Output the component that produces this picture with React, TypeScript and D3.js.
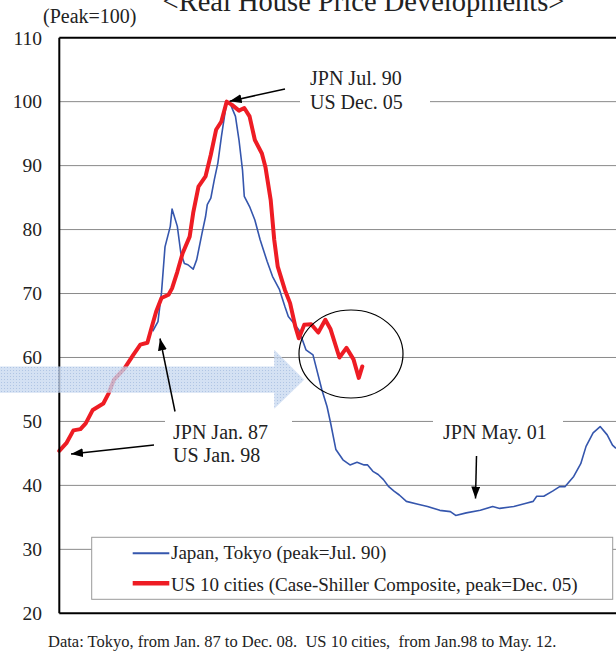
import React from "react";
import * as d3 from "d3";

// US 10 cities (Case-Shiller Composite), months since Jan. 98, peak = Dec. 05 (month 95)
const usMonths = [0, 4, 8, 12, 15, 19, 25, 28, 31, 37, 42, 46, 50, 52, 55, 58, 62, 64, 67, 70, 74, 76, 79, 83, 86, 89, 92, 95, 98, 102, 105, 108, 111, 115, 117, 120, 122, 124, 128, 131, 134, 136, 139, 143, 147, 151, 154, 159, 163, 167, 170, 172];
const usValues = [45.4, 46.6, 48.6, 48.8, 49.7, 51.8, 52.8, 54.4, 56.5, 58.3, 60.4, 62.0, 62.3, 64.3, 67.2, 69.3, 69.8, 70.8, 73.4, 76.3, 78.9, 82.6, 86.7, 88.3, 91.7, 95.6, 96.9, 100, 99.5, 98.6, 99.0, 97.7, 94.0, 91.9, 89.8, 84.6, 78.4, 74.2, 70.6, 68.5, 64.8, 63.0, 65.1, 65.2, 63.9, 65.9, 64.4, 60.0, 61.5, 59.7, 56.8, 58.6];
const usPeakMonth = 95;

// Japan, Tokyo, months since Jan. 87, peak = Jul. 90 (month 42)
const jpMonths = [0, 3, 5, 7, 10, 11, 14, 16, 18, 20, 23, 25, 28, 30, 31, 33, 35, 37, 39, 42, 44, 47, 49, 51, 52, 55, 58, 61, 65, 68, 72, 75, 77, 80, 83, 87, 91, 96, 99, 101, 104, 108, 112, 116, 120, 122, 125, 128, 131, 134, 137, 140, 144, 150, 156, 163, 169, 172, 178, 186, 193, 197, 205, 212, 216, 218, 222, 227, 231, 234, 239, 243, 246, 250, 254, 258, 261, 263];
const jpValues = [64.1, 65.6, 70.1, 77.3, 80.5, 83.2, 80.5, 76.3, 74.7, 74.5, 73.8, 75.3, 79.4, 82.0, 83.9, 84.9, 87.8, 90.4, 94.5, 100, 99.7, 97.7, 94.0, 89.3, 85.2, 83.6, 81.5, 78.4, 75.0, 72.7, 70.6, 68.0, 66.4, 65.4, 64.3, 61.2, 60.4, 55.0, 52.3, 49.75, 45.6, 44.0, 43.2, 43.6, 43.2, 43.2, 42.2, 41.7, 40.9, 39.8, 39.1, 38.5, 37.5, 37.1, 36.7, 36.1, 35.9, 35.3, 35.7, 36.1, 36.7, 36.4, 36.7, 37.2, 37.5, 38.3, 38.3, 39.1, 39.8, 39.8, 41.4, 43.4, 46.1, 48.2, 49.2, 47.9, 46.3, 45.8];
const jpPeakMonth = 42;

const yTicks = [20, 30, 40, 50, 60, 70, 80, 90, 100, 110];
const gridValues = [30, 40, 50, 60, 70, 80, 90, 100];

const title = "<Real House Price Developments>";
const unitLabel = "(Peak=100)";
const legendLabels = ["Japan, Tokyo (peak=Jul. 90)", "US 10 cities (Case-Shiller Composite, peak=Dec. 05)"];
const note = "Data: Tokyo, from Jan. 87 to Dec. 08.  US 10 cities,  from Jan.98 to May. 12.";

const W = 616;
const H = 657;
const FONT = "'Liberation Serif', 'Times New Roman', serif";
const BLUE = "#3556ad";
const RED = "#ee1c24";

export default function App() {
  // x: months relative to each series' own peak
  const x = d3.scaleLinear().domain([-95, 221]).range([59.3, 616]);
  const y = d3.scaleLinear().domain([20, 110]).range([613.3, 37.7]);

  const usData: [number, number][] = usMonths.map((m, i) => [m - usPeakMonth, usValues[i]]);
  const jpData: [number, number][] = jpMonths.map((m, i) => [m - jpPeakMonth, jpValues[i]]);
  const line = d3
    .line<[number, number]>()
    .x((d) => x(d[0]))
    .y((d) => y(d[1]));

  const x0 = x(-95);
  const x1 = 616;

  // big translucent arrow (in data space)
  const arrowPts: [number, number][] = [
    [-140, 58.6],
    [27, 58.6],
    [27, 61.2],
    [44, 56.5],
    [27, 52.0],
    [27, 54.5],
    [-140, 54.5],
  ];

  const textStyle = { fontFamily: FONT, fill: "#222" } as const;

  return (
    <svg
      width={W}
      height={H}
      style={{ position: "absolute", left: 0, top: 0, background: "#fff" }}
    >
      <defs>
        <marker id="ah" markerUnits="userSpaceOnUse" markerWidth={13} markerHeight={10} refX={12} refY={4.5} orient="auto">
          <path d="M0,0 L12,4.5 L0,9 z" fill="#000" />
        </marker>
        <pattern id="dots" width={3} height={3} patternUnits="userSpaceOnUse">
          <rect width={3} height={3} fill="#c8d8f0" />
          <rect x={1} y={1} width={1} height={1} fill="#9ab4dc" />
        </pattern>
      </defs>
      <rect width={W} height={H} fill="#fff" />

      {/* gridlines */}
      {gridValues.map((v) => (
        <line key={v} x1={x0} x2={x1} y1={y(v)} y2={y(v)} stroke="#8a8a8a" strokeWidth={1} />
      ))}

      {/* white label backgrounds hiding gridlines */}
      <rect x={300} y={62} width={130} height={56} fill="#fff" />
      <rect x={165} y={412} width={127} height={58} fill="#fff" />
      <rect x={433} y={412} width={130} height={36} fill="#fff" />

      {/* data lines */}
      <path d={line(jpData) || ""} fill="none" stroke={BLUE} strokeWidth={1.6} strokeLinejoin="round" />
      <path d={line(usData) || ""} fill="none" stroke={RED} strokeWidth={4} strokeLinejoin="round" strokeLinecap="round" />

      {/* frame */}
      <line x1={x0} x2={x1} y1={y(110)} y2={y(110)} stroke="#000" strokeWidth={2} />
      <line x1={x0} x2={x1} y1={y(20)} y2={y(20)} stroke="#000" strokeWidth={2} />
      <line x1={x0} x2={x0} y1={y(110)} y2={y(20)} stroke="#000" strokeWidth={2} />

      {/* y tick labels */}
      {yTicks.map((v) => (
        <text key={v} x={42} y={y(v)} dy="0.35em" textAnchor="end" fontSize={19.5} style={textStyle}>
          {v}
        </text>
      ))}

      {/* translucent arrow */}
      <polygon
        points={arrowPts.map((p) => `${x(p[0])},${y(p[1])}`).join(" ")}
        fill="url(#dots)"
        opacity={0.78}
      />

      {/* ellipse */}
      <ellipse cx={351} cy={354} rx={52} ry={44} fill="none" stroke="#000" strokeWidth={1.2} />

      {/* annotation arrows */}
      <line x1={285} y1={89} x2={x(0) + 3} y2={y(100) - 0.5} stroke="#000" strokeWidth={1.5} markerEnd="url(#ah)" />
      <line x1={175} y1={411.5} x2={160} y2={338.5} stroke="#000" strokeWidth={1.5} markerEnd="url(#ah)" />
      <line x1={154} y1={445} x2={71} y2={454} stroke="#000" strokeWidth={1.5} markerEnd="url(#ah)" />
      <line x1={476.5} y1={456} x2={475.5} y2={498.5} stroke="#000" strokeWidth={1.5} markerEnd="url(#ah)" />

      {/* annotation texts */}
      <text x={310} y={85} fontSize={20} style={textStyle}>JPN Jul. 90</text>
      <text x={310} y={108.5} fontSize={20} style={textStyle}>US Dec. 05</text>
      <text x={173} y={438.5} fontSize={20} style={textStyle}>JPN Jan. 87</text>
      <text x={173} y={462} fontSize={20} style={textStyle}>US Jan. 98</text>
      <text x={443} y={438.5} fontSize={20} style={textStyle}>JPN May. 01</text>

      {/* title + unit */}
      <text x={363.5} y={11} textAnchor="middle" fontSize={28.5} style={textStyle}>{title}</text>
      <text x={43} y={23} fontSize={20} style={textStyle}>{unitLabel}</text>

      {/* legend */}
      <rect x={91.7} y={537.3} width={521} height={62} fill="#fff" stroke="#9a9a9a" strokeWidth={1} />
      <line x1={132.7} x2={169.3} y1={553.3} y2={553.3} stroke={BLUE} strokeWidth={2} />
      <line x1={132.7} x2={169.3} y1={583.3} y2={583.3} stroke={RED} strokeWidth={4.5} />
      <text x={171} y={559} fontSize={19} style={textStyle}>{legendLabels[0]}</text>
      <text x={171} y={590.5} fontSize={19} style={textStyle}>{legendLabels[1]}</text>

      {/* note */}
      <text x={48} y={646.5} fontSize={16.5} style={{ ...textStyle, whiteSpace: "pre" }}>{note}</text>
    </svg>
  );
}
